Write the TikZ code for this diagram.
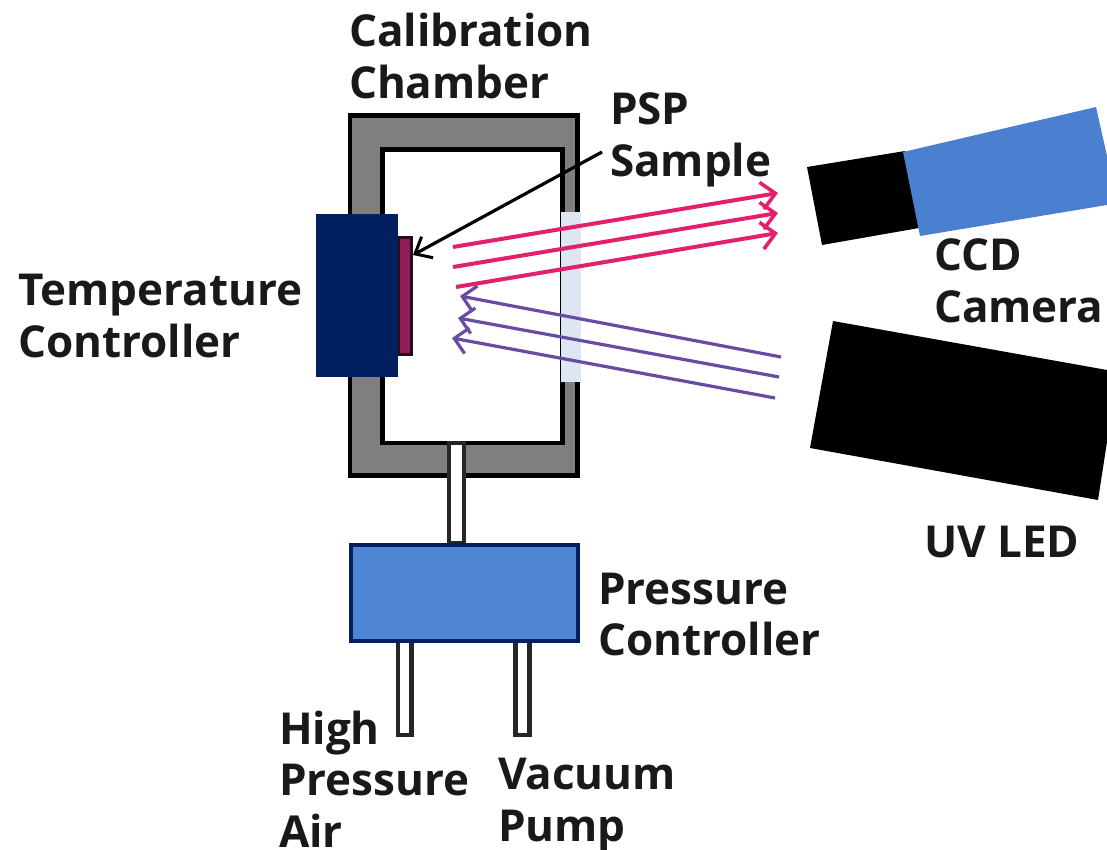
\documentclass[tikz,border=0pt]{standalone}
\usepackage{fontspec}
\setmainfont{Open Sans}
\usetikzlibrary{arrows.meta}
\definecolor{wallgray}{HTML}{7F7F7F}
\definecolor{navy}{HTML}{002060}
\definecolor{ctlblue}{HTML}{4F86D3}
\definecolor{cambody}{HTML}{4A80CF}
\definecolor{samplered}{HTML}{8E1C56}
\definecolor{pinkray}{HTML}{E2206C}
\definecolor{violetray}{HTML}{6A4BA3}
\definecolor{winblue}{HTML}{DDE6F2}
\tikzset{
  pxbox/.style={anchor=north west,inner sep=0pt,outer sep=0pt},
  wall/.style={pxbox,draw=black,line width=4.5pt},
  pipe/.style={pxbox,draw=black!85,fill=white,line width=4.5pt},
  lbl/.style={anchor=base west,inner sep=0pt,outer sep=0pt,align=left,font=\fontsize{44}{51.5}\selectfont\bfseries,text=black!90},
  pinkarrow/.style={draw=pinkray,line width=4pt,-{Straight Barb[length=14pt,width=27pt,line width=3.6pt]}},
  violetarrow/.style={draw=violetray,line width=3.2pt,-{Straight Barb[length=13pt,width=26pt,line width=3.2pt]}},
  leader/.style={draw=black,line width=3.2pt,-{Straight Barb[length=14pt,width=24pt,line width=3pt]}}
}
\begin{document}
\begin{tikzpicture}[x=1pt,y=-1pt]
\useasboundingbox (0,0) rectangle (1107,850);
% chamber
\node[wall,fill=wallgray,minimum width=227.5pt,minimum height=360pt] (chamber) at (350,115.5) {};
\node[wall,fill=white,minimum width=180pt,minimum height=293.5pt] (cavity) at (382.5,149.5) {};
\node[pxbox,fill=winblue,minimum width=20pt,minimum height=170pt] (window) at (561,212) {};
% connecting pipes
\node[pipe,minimum width=15pt,minimum height=100pt] (pipeA) at (449,443) {};
\node[pipe,minimum width=13.5pt,minimum height=94pt] (pipeB) at (398,641) {};
\node[pipe,minimum width=14pt,minimum height=94pt] (pipeC) at (515.5,641) {};
% pressure controller
\node[pxbox,draw=navy,fill=ctlblue,line width=4pt,minimum width=227.5pt,minimum height=96pt] (pressure) at (350.5,544.5) {};
% temperature controller and sample
\node[pxbox,fill=samplered,draw=black!70!samplered,line width=3pt,minimum width=13pt,minimum height=116pt] (sample) at (398,238) {};
\node[pxbox,fill=navy,minimum width=82pt,minimum height=163pt] (temp) at (316,214) {};
% camera
\fill[black] (807,167) -- (905,151) -- (919,228) -- (822,245) -- cycle;
\fill[cambody] (903,152) -- (1096,107) -- (1107,156) -- (1107,205) -- (920,236) -- cycle;
% UV LED
\fill[black] (833,321) -- (1107,370) -- (1107,442) -- (1098,500) -- (810,448) -- cycle;
% rays
\coordinate (p1a) at (453,247); \coordinate (p1b) at (778,193);
\coordinate (p2a) at (453,267); \coordinate (p2b) at (778,213);
\coordinate (p3a) at (456,287); \coordinate (p3b) at (778,233);
\draw[pinkarrow] (p1a) -- (p1b);
\draw[pinkarrow] (p2a) -- (p2b);
\draw[pinkarrow] (p3a) -- (p3b);
\coordinate (v1a) at (781,357); \coordinate (v1b) at (460,296);
\coordinate (v2a) at (779,377); \coordinate (v2b) at (458,318);
\coordinate (v3a) at (775,398); \coordinate (v3b) at (452,338);
\draw[violetarrow] (v1a) -- (v1b);
\draw[violetarrow] (v2a) -- (v2b);
\draw[violetarrow] (v3a) -- (v3b);
% labels
\node[lbl] (lcal) at (349,98.5) {Calibration\\Chamber};
\node[lbl] (lpsp) at (610,176.5) {PSP\\Sample};
\node[lbl] (ltemp) at (18,357) {Temperature\\Controller};
\node[lbl] (lccd) at (934,322) {CCD\\Camera};
\node[lbl] (luv) at (924,557) {UV LED};
\node[lbl] (lpres) at (598,655.5) {Pressure\\Controller};
\node[lbl] (lhigh) at (279,847) {High\\Pressure\\Air};
\node[lbl] (lvac) at (498,841) {Vacuum\\Pump};
% leader
\coordinate (leadstart) at (602,152);
\coordinate (leadend) at (413,255);
\draw[leader] (leadstart) -- (leadend);
\end{tikzpicture}
\end{document}
